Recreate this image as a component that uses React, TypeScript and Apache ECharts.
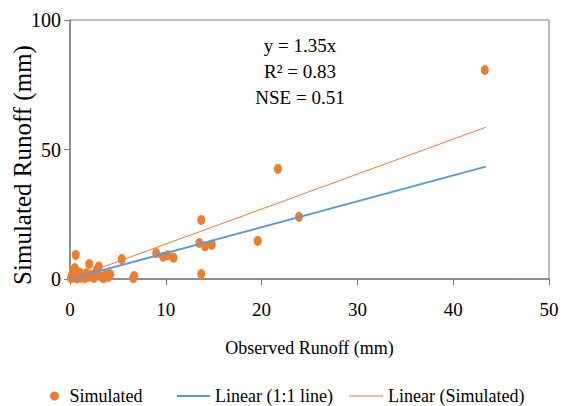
import React, { useEffect, useRef } from "react";
import * as echarts from "echarts";

const observed = [0.1, 0.2, 0.3, 0.4, 0.5, 0.6, 0.7, 0.8, 1.0, 1.1, 1.3, 1.5, 1.7, 1.9, 2.0, 2.2, 2.5, 2.8, 3.0, 3.2, 3.5, 3.8, 4.0, 4.2, 5.4, 6.6, 6.7, 9.0, 9.7, 10.2, 10.8, 13.5, 13.7, 13.7, 14.1, 14.8, 19.6, 21.7, 23.9, 43.3];
const simulated = [0.3, 1.5, 2.5, 0.8, 4.2, 9.3, 0.2, 1.8, 2.6, 0.5, 1.2, 0.3, 2.2, 0.8, 5.8, 1.5, 0.4, 3.5, 4.8, 1.0, 0.3, 2.0, 0.8, 1.8, 7.7, 0.3, 1.2, 10.0, 8.6, 9.2, 8.2, 13.9, 22.8, 1.9, 12.6, 13.2, 14.7, 42.5, 24.0, 80.7];

const lineOneToOne = [[0, 0], [43.4, 43.4]];
const lineSimulated = [[0, 0], [43.4, 58.6]];

const xTicks = { min: 0, max: 50, interval: 10 };
const yTicks = { min: 0, max: 100, interval: 50 };

const annotations = ["y = 1.35x", "R² = 0.83", "NSE = 0.51"];

const FONT = "'Liberation Serif', 'Times New Roman', serif";
const TXT = "#000";
const AXIS = "#7f7f7f";

export default function App() {
  const ref = useRef<HTMLDivElement>(null);
  useEffect(() => {
    if (!ref.current) return;
    const chart = echarts.init(ref.current, null, { renderer: "svg" });
    const points = observed.map((o, i) => [o, simulated[i]]);
    const legendText = { fontFamily: FONT, fontSize: 18, color: TXT };
    chart.setOption({
      animation: false,
      textStyle: { fontFamily: FONT },
      grid: {
        left: 70,
        right: 14,
        top: 20,
        bottom: 127,
        outerBoundsMode: "none",
        containLabel: false,
        show: true,
        borderColor: AXIS,
        borderWidth: 1,
      },
      xAxis: {
        type: "value",
        ...xTicks,
        name: "Observed Runoff (mm)",
        nameLocation: "middle",
        nameGap: 60,
        nameTextStyle: { fontFamily: FONT, fontSize: 18, color: TXT },
        axisLine: { show: true, lineStyle: { color: AXIS, width: 1.5 } },
        axisTick: { show: true, length: 6, lineStyle: { color: AXIS } },
        axisLabel: { fontFamily: FONT, fontSize: 19, color: TXT, margin: 21 },
        splitLine: { show: false },
      },
      yAxis: {
        type: "value",
        ...yTicks,
        axisLine: { show: true, lineStyle: { color: AXIS, width: 1.5 } },
        axisTick: { show: true, length: 6, lineStyle: { color: AXIS } },
        axisLabel: { fontFamily: FONT, fontSize: 20, color: TXT, margin: 9 },
        splitLine: { show: false },
      },
      legend: [
        {
          top: 382,
          left: 45,
          itemWidth: 14,
          itemHeight: 9,
          textStyle: { ...legendText, padding: [0, 0, 0, 3] },
          data: [{ name: "Simulated", icon: "circle" }],
        },
        {
          top: 382,
          left: 172,
          itemWidth: 33,
          itemHeight: 10,
          textStyle: legendText,
          data: [{ name: "Linear (1:1 line)", icon: "path://M0 0H33V2H0Z" }],
        },
        {
          top: 382,
          left: 344,
          itemWidth: 34,
          itemHeight: 10,
          textStyle: legendText,
          data: [{ name: "Linear (Simulated)", icon: "path://M0 0H34V1.2H0Z" }],
        },
      ],
      series: [
        {
          name: "Linear (1:1 line)",
          type: "line",
          data: lineOneToOne,
          symbol: "none",
          lineStyle: { color: "#5B9BD5", width: 2 },
          itemStyle: { color: "#5B9BD5" },
          z: 3,
        },
        {
          name: "Linear (Simulated)",
          type: "line",
          data: lineSimulated,
          symbol: "none",
          lineStyle: { color: "#ED7D31", width: 1 },
          itemStyle: { color: "#ED7D31" },
          z: 3,
        },
        {
          name: "Simulated",
          type: "scatter",
          data: points,
          symbol: "circle",
          symbolSize: [8, 10],
          itemStyle: { color: "#ED7D31", opacity: 1 },
          z: 2,
        },
      ],
      graphic: [
        ...annotations.map((t, i) => ({
          type: "text",
          x: 300,
          y: 45 + i * 26,
          style: {
            text: t,
            fontFamily: FONT,
            fontSize: 19,
            fill: TXT,
            textAlign: "center",
            textVerticalAlign: "middle",
          },
        })),
        {
          type: "text",
          x: 22,
          y: 165,
          rotation: Math.PI / 2,
          style: {
            text: "Simulated Runoff (mm)",
            fontFamily: FONT,
            fontSize: 25,
            fill: TXT,
            textAlign: "center",
            textVerticalAlign: "middle",
          },
        },
      ],
    });
    return () => chart.dispose();
  }, []);
  return (
    <div
      ref={ref}
      style={{ position: "absolute", left: 0, top: 0, width: 563, height: 406 }}
    />
  );
}
